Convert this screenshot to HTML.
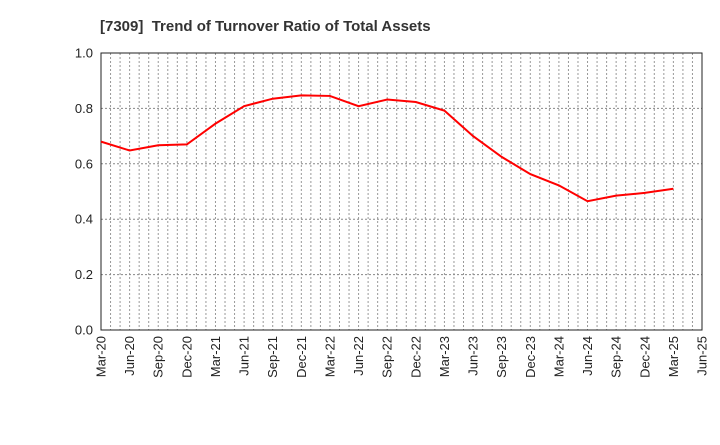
<!DOCTYPE html>
<html><head><meta charset="utf-8"><style>
body{margin:0;background:#fff;width:720px;height:440px;overflow:hidden;font-family:"Liberation Sans",sans-serif}
</style></head><body>
<svg id="chart" width="720" height="440" xmlns="http://www.w3.org/2000/svg">
<text x="100" y="31" font-size="15" font-weight="bold" fill="#333">[7309]&#160; Trend of Turnover Ratio of Total Assets</text>
<g id="grid"></g><g id="axes"></g><g id="series"></g>
</svg>
<script>
const categories=["Mar-20","Jun-20","Sep-20","Dec-20","Mar-21","Jun-21","Sep-21","Dec-21","Mar-22","Jun-22","Sep-22","Dec-22","Mar-23","Jun-23","Sep-23","Dec-23","Mar-24","Jun-24","Sep-24","Dec-24","Mar-25","Jun-25"];
const values=[0.68,0.648,0.667,0.67,0.745,0.808,0.835,0.847,0.845,0.808,0.832,0.823,0.792,0.70,0.625,0.563,0.522,0.465,0.485,0.495,0.51];
const yTicks=[0,0.2,0.4,0.6,0.8,1.0];
const L=101,R=702,T=53,B=330,NS="http://www.w3.org/2000/svg";
const xs=i=>L+(R-L)*i/(categories.length-1);
const ys=v=>B-(B-T)*v/1.0;
function mk(p,t,a){const e=document.createElementNS(NS,t);for(const k in a)e.setAttribute(k,a[k]);p.appendChild(e);return e;}
const g=document.getElementById('grid'),ax=document.getElementById('axes'),s=document.getElementById('series');
for(let m=1;m<(categories.length-1)*3;m++){const x=L+(R-L)*m/((categories.length-1)*3);
const ln=mk(g,'line',{x1:x,x2:x,y1:T,y2:B,stroke:'#999','stroke-dasharray':'2,2','stroke-width':1});

}
yTicks.forEach(v=>{const y=ys(v);
if(v>0&&v<1){const ln=mk(g,'line',{x1:L,x2:R,y1:y,y2:y,stroke:'#888','stroke-dasharray':'2,2'});

}
const t=mk(ax,'text',{x:L-8,y:y+4.5,'text-anchor':'end','font-size':13,fill:'#222'});t.textContent=v.toFixed(1);

});
const fr=mk(ax,'rect',{x:L,y:T,width:R-L,height:B-T,fill:'none',stroke:'#222'});


categories.forEach((c,i)=>{const x=xs(i);
const t=mk(ax,'text',{x:x+4.5,y:B+6,'text-anchor':'end','font-size':13,fill:'#222',transform:`rotate(-90 ${x+4.5} ${B+6})`});t.textContent=c;

});
const pl=mk(s,'polyline',{points:values.map((v,i)=>xs(i)+','+ys(v)).join(' '),fill:'none',stroke:'#f00','stroke-width':2});


</script>
</body></html>
